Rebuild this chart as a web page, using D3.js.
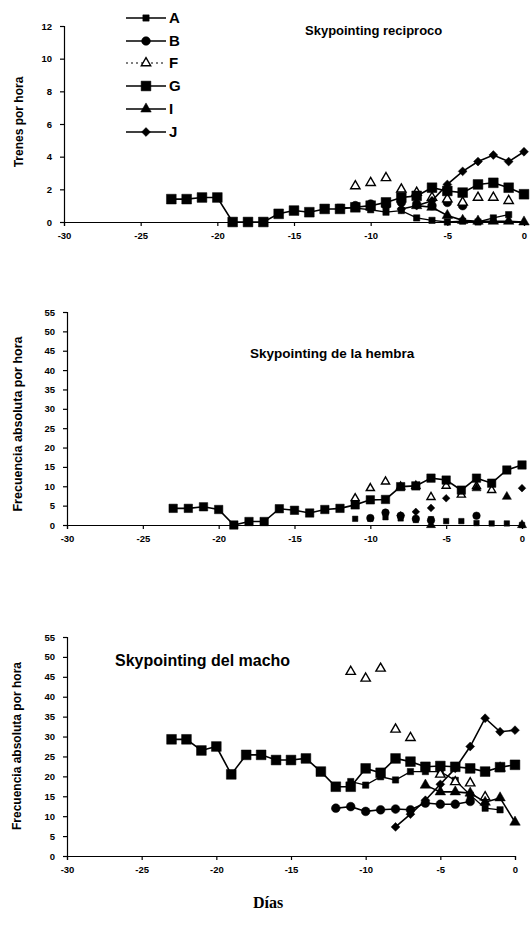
<!DOCTYPE html>
<html lang="es">
<head>
  <meta charset="UTF-8">
  <title>Skypointing</title>
  <script src="https://d3js.org/d3.v7.min.js"></script>
  <style>
    body { margin: 0; background: #fff; }
    text { font-family: "Liberation Sans", Arial, sans-serif; }
  </style>
</head>
<body>
  <script>
    // Days before event (x categories)
    const days = [-23, -22, -21, -20, -19, -18, -17, -16, -15, -14, -13, -12,
                  -11, -10, -9, -8, -7, -6, -5, -4, -3, -2, -1, 0];
    const xTicks = [-30, -25, -20, -15, -10, -5, 0];
    const seriesNames = ["A", "B", "F", "G", "I", "J"];
    const n = null;

    // Skypointing reciproco (trenes por hora)
    const topA = [n,n,n,n,n,n,n,n,n,n,n, 0.9,0.85,0.75,0.6,0.7,0.25,0.1,0,0.05,0,0.25,0.45,n];
    const topB = [n,n,n,n,n,n,n,n,n,n,n,n, 1.0,1.1,1.0,1.2,1.1,1.0,1.2,1.0,n,n,n,n];
    const topF = [n,n,n,n,n,n,n,n,n,n,n,n, 2.2,2.4,2.7,2.0,1.8,1.5,1.4,1.2,1.5,1.5,1.3,n];
    const topG = [1.4,1.4,1.5,1.5,0,0,0,0.5,0.7,0.6,0.8,0.8,0.9,1.0,1.2,1.5,1.6,2.1,1.9,1.8,2.3,2.4,2.1,1.7];
    const topI = [n,n,n,n,n,n,n,n,n,n,n,n,n,n,n,n, 1.0,0.9,0.4,0.1,0.05,0.05,0.05,0];
    const topJ = [n,n,n,n,n,n,n,n,n,n,n,n,n,n,n, 0.8,1.0,1.3,2.3,3.1,3.7,4.1,3.7,4.3];

    // Skypointing de la hembra
    const midA = [n,n,n,n,n,n,n,n,n,n,n,n, 1.6,1.6,2.0,1.7,1.3,1.5,1.0,1.0,0.5,0.4,0.4,0];
    const midB = [n,n,n,n,n,n,n,n,n,n,n,n,n, 1.8,3.2,2.4,1.6,1.2,n,n,2.4,n,n,n];
    const midF = [n,n,n,n,n,n,n,n,n,n,n,n, 6.9,9.5,11.2,9.9,10.1,7.2,10.1,7.8,10.0,9.0,n,n];
    const midG = [4.3,4.3,4.7,4.0,0,0.9,0.9,4.2,3.8,3.1,4.0,4.3,5.2,6.5,6.6,9.9,10.1,12.1,11.6,9.0,12.1,10.8,14.2,15.5];
    const midI = [n,n,n,n,n,n,n,n,n,n,n,n,n,n,n,n,n, 0,n,n,9.5,n,7.3,0];
    const midJ = [n,n,n,n,n,n,n,n,n,n,n,n,n,n,n, 2.5,3.4,4.4,6.9,n,n,n,n,9.5];

    // Skypointing del macho
    const botA = [n,n,n,n,n,n,n,n,n,n,n,n, 18.7,17.8,19.9,19.1,21.2,21.2,21.2,19.0,15.3,12.0,11.6,n];
    const botB = [n,n,n,n,n,n,n,n,n,n,n, 12.0,12.4,11.2,11.6,11.8,11.6,13.3,13.0,13.0,13.7,n,n,n];
    const botF = [n,n,n,n,n,n,n,n,n,n,n,n, 46.3,44.6,47.1,31.8,29.7,n,20.5,18.6,18.3,14.8,22.1,n];
    const botG = [29.3,29.3,26.5,27.5,20.5,25.4,25.4,24.1,24.1,24.5,21.2,17.4,17.4,22.0,20.9,24.5,23.7,22.4,22.6,22.4,22.0,21.2,22.3,22.9];
    const botI = [n,n,n,n,n,n,n,n,n,n,n,n,n,n,n,n,n, 17.8,16.1,16.1,15.8,13.5,14.6,8.5];
    const botJ = [n,n,n,n,n,n,n,n,n,n,n,n,n,n,n, 7.3,10.5,14.0,18.0,22.0,27.5,34.6,31.2,31.6];

    const width = 531, height = 938;

    const svg = d3.select("body").append("svg")
      .attr("width", width)
      .attr("height", height);
    svg.append("rect").attr("width", width).attr("height", height).attr("fill", "#fff");

    // marker look for each series
    const markers = {
      A: { type: d3.symbolSquare, size: 40, fill: "#000" },
      B: { type: d3.symbolCircle, size: 60, fill: "#000" },
      F: { type: d3.symbolTriangle, size: 38, fill: "#fff" },
      G: { type: d3.symbolSquare, size: 95, fill: "#000" },
      I: { type: d3.symbolTriangle, size: 48, fill: "#000" },
      J: { type: d3.symbolDiamond2, size: 50, fill: "#000" }
    };

    function drawPanel(p) {
      const x = d3.scaleLinear().domain([-30, 0]).range([p.x0, p.x1]);
      const y = d3.scaleLinear().domain([0, p.yMax]).range([p.yBottom, p.yTop]);
      const g = svg.append("g");

      // y axis
      g.append("g")
        .attr("transform", `translate(${p.x0},0)`)
        .call(d3.axisLeft(y).tickValues(p.yTicks).tickSize(4).tickPadding(8)
          .tickFormat(d => String(d)))
        .call(a => a.selectAll("text").attr("font-size", 9.5).attr("font-weight", "bold"))
        .call(a => a.selectAll("path,line").attr("stroke", "#000").attr("stroke-width", 1.2));

      // x axis
      g.append("g")
        .attr("transform", `translate(0,${p.yBottom})`)
        .call(d3.axisBottom(x).tickValues(xTicks).tickSize(4).tickPadding(6)
          .tickFormat(d => String(d)))
        .call(a => a.selectAll("text").attr("font-size", 9.5).attr("font-weight", "bold"))
        .call(a => a.selectAll("path,line").attr("stroke", "#000").attr("stroke-width", 1.2));

      // y axis title
      g.append("text")
        .attr("transform", `translate(${p.titleX},${p.titleY}) rotate(-90)`)
        .attr("text-anchor", "middle")
        .attr("font-size", p.ySize)
        .attr("font-weight", "bold")
        .text(p.yLabel);

      // chart title
      g.append("text")
        .attr("x", p.tx).attr("y", p.ty)
        .attr("font-size", p.tSize)
        .attr("font-weight", "bold")
        .text(p.title);

      p.series.forEach((vals, i) => {
        const name = seriesNames[i];
        const pts = days.map((d, k) => ({ d: d, v: vals[k] }));
        if (p.lines.includes(name)) {
          const line = d3.line()
            .defined(q => q.v !== null)
            .x(q => x(q.d))
            .y(q => y(q.v));
          g.append("path")
            .attr("d", line(pts))
            .attr("fill", "none")
            .attr("stroke", "#000")
            .attr("stroke-width", name === "A" ? 1.3 : 1.6);
        }
        const m = markers[name];
        const sym = d3.symbol().type(m.type).size(m.size * p.mScale);
        g.selectAll(null)
          .data(pts.filter(q => q.v !== null))
          .enter()
          .append("path")
          .attr("d", sym)
          .attr("transform", q => `translate(${x(q.d)},${y(q.v)})`)
          .attr("fill", m.fill)
          .attr("stroke", "#000")
          .attr("stroke-width", name === "F" ? 1.4 : 0.5);
      });
    }

    drawPanel({
      x0: 64, x1: 524, yTop: 26, yBottom: 222, yMax: 12,
      yTicks: [0, 2, 4, 6, 8, 10, 12],
      yLabel: "Trenes por hora", titleX: 23, titleY: 122, ySize: 12,
      title: "Skypointing reciproco", tx: 305, ty: 35, tSize: 13,
      series: [topA, topB, topF, topG, topI, topJ],
      lines: ["A", "G", "I", "J"], mScale: 1
    });

    drawPanel({
      x0: 67, x1: 522, yTop: 312, yBottom: 525, yMax: 55,
      yTicks: [0, 5, 10, 15, 20, 25, 30, 35, 40, 45, 50, 55],
      yLabel: "Frecuencia absoluta por hora", titleX: 22, titleY: 424, ySize: 12.5,
      title: "Skypointing de la hembra", tx: 250, ty: 358, tSize: 13.5,
      series: [midA, midB, midF, midG, midI, midJ],
      lines: ["G"], mScale: 0.75
    });

    drawPanel({
      x0: 67, x1: 515, yTop: 637, yBottom: 856, yMax: 55,
      yTicks: [0, 5, 10, 15, 20, 25, 30, 35, 40, 45, 50, 55],
      yLabel: "Frecuencia absoluta por hora", titleX: 21, titleY: 746, ySize: 12,
      title: "Skypointing del macho", tx: 115, ty: 666, tSize: 16,
      series: [botA, botB, botF, botG, botI, botJ],
      lines: ["A", "B", "G", "I", "J"], mScale: 1
    });

    // legend
    const legY = [18, 41, 63, 86, 109, 132];
    const legend = svg.append("g");
    seriesNames.forEach((name, i) => {
      const m = markers[name];
      legend.append("line")
        .attr("x1", 126).attr("x2", 166)
        .attr("y1", legY[i]).attr("y2", legY[i])
        .attr("stroke", "#000")
        .attr("stroke-width", name === "F" ? 1 : 1.6)
        .attr("stroke-dasharray", name === "F" ? "2,3" : null);
      legend.append("path")
        .attr("d", d3.symbol().type(m.type).size(m.size)())
        .attr("transform", `translate(146,${legY[i]})`)
        .attr("fill", m.fill)
        .attr("stroke", "#000")
        .attr("stroke-width", name === "F" ? 1.4 : 0.5);
      legend.append("text")
        .attr("x", 169).attr("y", legY[i] + 5)
        .attr("font-size", 15)
        .attr("font-weight", "bold")
        .text(name);
    });

    // x axis title
    svg.append("text")
      .attr("x", 268).attr("y", 908)
      .attr("text-anchor", "middle")
      .attr("font-size", 16)
      .attr("font-weight", "bold")
      .style("font-family", "'Liberation Serif', 'Times New Roman', serif")
      .text("Días");
  </script>
</body>
</html>
